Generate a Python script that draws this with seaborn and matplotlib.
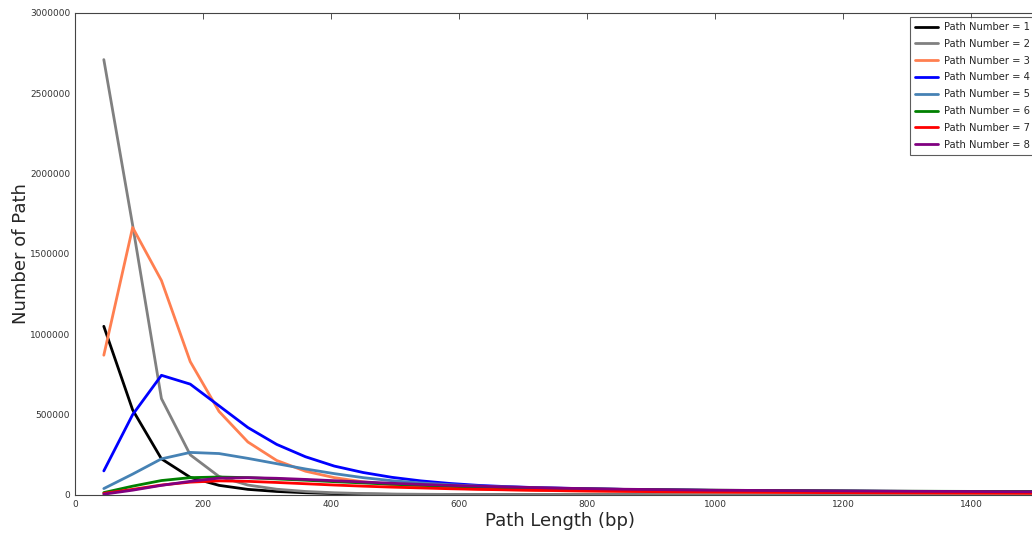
import numpy as np
import pandas as pd
import seaborn as sns
from matplotlib import pyplot as plt
from matplotlib import ticker

sns.set_style("white", {"xtick.direction": "in", "ytick.direction": "in"})

PATH_LENGTH = [45, 90, 135, 180, 225, 270, 315, 360, 405, 450, 495, 540, 585, 630, 675, 720, 765,
               810, 855, 900, 945, 990, 1035, 1080, 1125, 1170, 1215, 1260, 1305, 1350, 1395, 1440,
               1485, 1530]

# counts in thousands
PATH_1 = [1050, 530, 225, 110, 60, 35, 22, 14, 9, 6, 4, 3, 2.5, 2, 1.8, 1.5, 1.3, 1.2, 1.1, 1, 1,
          0.9, 0.9, 0.8, 0.8, 0.7, 0.7, 0.7, 0.6, 0.6, 0.6, 0.5, 0.5, 0.5]
PATH_2 = [2710, 1680, 600, 250, 115, 62, 36, 22, 14, 9, 6, 4.5, 3.5, 3, 2.5, 2.2, 2, 1.8, 1.6, 1.5,
          1.4, 1.3, 1.2, 1.1, 1, 1, 0.9, 0.9, 0.8, 0.8, 0.8, 0.7, 0.7, 0.7]
PATH_3 = [870, 1665, 1335, 830, 520, 330, 215, 148, 108, 82, 64, 52, 43, 37, 33, 29, 26, 24, 22, 20,
          19, 18, 17, 16, 15, 14.5, 14, 13.5, 13, 12.5, 12, 11.5, 11, 10.5]
PATH_4 = [150, 500, 745, 690, 555, 420, 315, 238, 180, 140, 110, 88, 72, 60, 52, 46, 42, 38, 35, 33,
          31, 29, 28, 27, 26, 25, 24, 23, 22.5, 22, 21.5, 21, 20.5, 20]
PATH_5 = [40, 130, 225, 265, 258, 228, 195, 162, 133, 108, 89, 75, 64, 56, 50, 45, 41, 38, 35, 33,
          31, 29, 28, 27, 26, 25, 24, 23, 22, 21.5, 21, 20.5, 20, 19.5]
PATH_6 = [15, 55, 90, 108, 112, 108, 100, 92, 83, 75, 67, 60, 54, 49, 45, 42, 39, 37, 35, 33, 31,
          30, 29, 28, 27, 26, 25, 24, 23.5, 23, 22.5, 22, 21.5, 21]
PATH_7 = [10, 35, 62, 80, 88, 85, 78, 70, 62, 55, 49, 44, 39, 35, 32, 29, 27, 25, 23, 21, 20, 19, 18,
          17, 16, 15, 14.5, 14, 13.5, 13, 12.5, 12, 11.5, 11]
PATH_8 = [5, 30, 60, 85, 105, 108, 104, 97, 89, 81, 73, 66, 60, 55, 50, 46, 42, 39, 36, 34, 32, 30,
          29, 28, 27, 26, 25, 24, 23, 22.5, 22, 21, 20.5, 20]

SERIES = [PATH_1, PATH_2, PATH_3, PATH_4, PATH_5, PATH_6, PATH_7, PATH_8]
COLORS = ["black", "gray", "#ff7f50", "blue", "steelblue", "green", "red", "purple"]


def build_frame():
    rows = []
    for i, counts in enumerate(SERIES):
        for x, c in zip(PATH_LENGTH, counts):
            rows.append((x, c * 1000, f"Path Number = {i + 1}"))
    return pd.DataFrame.from_records(rows, columns=("length", "count", "path"))


def plot_data():
    df = build_frame()
    fig = plt.figure(figsize=(10.32, 5.36), dpi=100)
    ax = fig.add_axes([75 / 1032, 1 - 495 / 536, 970 / 1032, 482 / 536])

    sns.lineplot(data=df, x="length", y="count", hue="path", palette=COLORS, linewidth=2,
                 ax=ax)

    ax.set_xlim(0, 1515)
    ax.set_ylim(0, 3000000)
    ax.xaxis.set_major_locator(ticker.MultipleLocator(200))
    ax.yaxis.set_major_locator(ticker.MultipleLocator(500000))
    ax.yaxis.set_major_formatter(ticker.FuncFormatter(lambda v, p: f"{int(v)}"))
    ax.tick_params(labelsize=6.5, colors="#333333", length=4, width=0.6,
                   top=True, right=True, direction="in")
    for s in ax.spines.values():
        s.set_color("#444444")
        s.set_linewidth(0.8)

    ax.set_xlabel("Path Length (bp)", fontsize=13, labelpad=2)
    ax.set_ylabel("Number of Path", fontsize=13, labelpad=0)

    # legend runs off the right edge like in the original export
    leg = ax.legend(loc="upper left", bbox_to_anchor=(910 / 1032, 1 - 17 / 536),
                    bbox_transform=fig.transFigure, borderaxespad=0, fontsize=7.2,
                    frameon=True, fancybox=False, labelspacing=0.68, handlelength=2.3,
                    handletextpad=0.55, borderpad=0.5)
    leg.get_frame().set_edgecolor("#333333")
    leg.get_frame().set_linewidth(0.8)

    fig.savefig("out.png", dpi=100)


def main():
    plot_data()


if __name__ == "__main__":
    main()
